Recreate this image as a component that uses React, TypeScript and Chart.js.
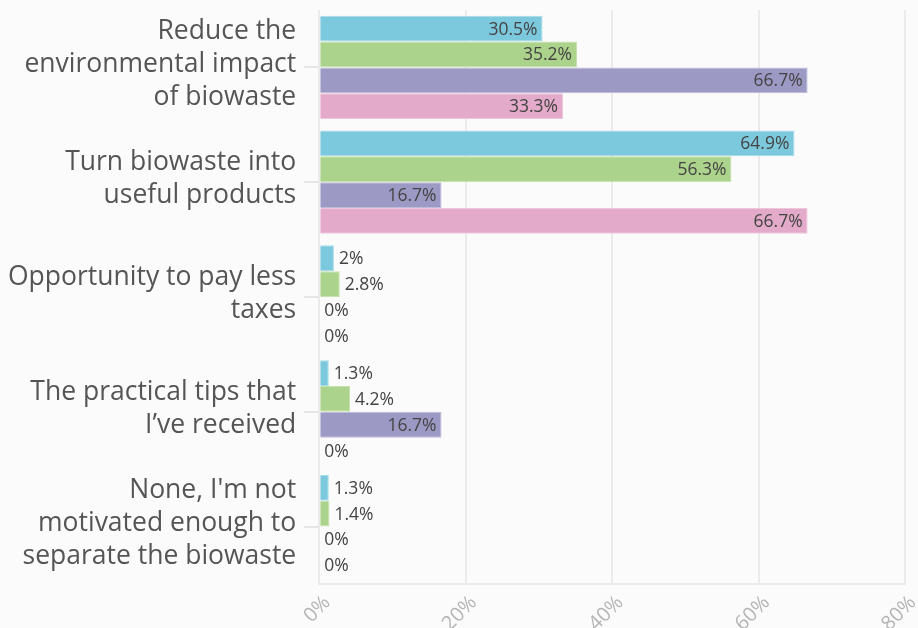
import React, { useEffect, useRef } from "react";
import { Chart, registerables } from "chart.js";

Chart.register(...registerables);

const categories: string[][] = [
  ["Reduce the", "environmental impact", "of biowaste"],
  ["Turn biowaste into", "useful products"],
  ["Opportunity to pay less", "taxes"],
  ["The practical tips that", "I\u2019ve received"],
  ["None, I'm not", "motivated enough to", "separate the biowaste"],
];

const seriesA = [30.5, 64.9, 2, 1.3, 1.3];
const seriesB = [35.2, 56.3, 2.8, 4.2, 1.4];
const seriesC = [66.7, 16.7, 0, 16.7, 0];
const seriesD = [33.3, 66.7, 0, 0, 0];

const seriesNames = ["Series 1", "Series 2", "Series 3", "Series 4"];
const seriesColors = ["#7cc8dc", "#acd38b", "#9d99c5", "#e3aac9"];
const seriesBorders = ["#a6dbe9", "#c6e2ad", "#bdbada", "#eec6dc"];

const xTicks = [0, 20, 40, 60, 80];

const FONT = "'Open Sans', 'Noto Sans', sans-serif";

const bgPlugin = {
  id: "bg",
  beforeDraw(chart: any) {
    const { ctx, width, height } = chart;
    ctx.save();
    ctx.fillStyle = "#fbfbfb";
    ctx.fillRect(0, 0, width, height);
    ctx.restore();
  },
};

const labelPlugin = {
  id: "barLabels",
  afterDatasetsDraw(chart: any) {
    const ctx = chart.ctx;
    ctx.save();
    ctx.font = `17.5px ${FONT}`;
    ctx.fillStyle = "#444";
    ctx.textBaseline = "middle";
    chart.data.datasets.forEach((ds: any, i: number) => {
      const meta = chart.getDatasetMeta(i);
      meta.data.forEach((el: any, j: number) => {
        const v = ds.data[j];
        const text = `${v}%`;
        const tw = ctx.measureText(text).width;
        const w = el.x - el.base;
        if (w > tw + 10) {
          ctx.textAlign = "right";
          ctx.fillText(text, el.x - 5, el.y + 1);
        } else {
          ctx.textAlign = "left";
          ctx.fillText(text, el.x + 5, el.y + 1);
        }
      });
    });
    ctx.restore();
  },
};

export default function App() {
  const ref = useRef<HTMLCanvasElement | null>(null);
  useEffect(() => {
    if (!ref.current) return;
    const data = [seriesA, seriesB, seriesC, seriesD];
    const chart = new Chart(ref.current, {
      type: "bar",
      data: {
        labels: categories,
        datasets: data.map((d, i) => ({
          label: seriesNames[i],
          data: d,
          backgroundColor: seriesColors[i],
          borderColor: seriesBorders[i],
          borderWidth: 1,
          categoryPercentage: 0.9,
          barPercentage: 1,
        })),
      },
      options: {
        indexAxis: "y",
        animation: false,
        responsive: false,
        maintainAspectRatio: false,
        layout: { padding: { top: 10, right: 13, left: 0, bottom: 0 } },
        plugins: {
          legend: { display: false },
          tooltip: { enabled: false },
        },
        scales: {
          x: {
            min: 0,
            max: 80,
            afterBuildTicks: (axis: any) => {
              axis.ticks = xTicks.map((v) => ({ value: v }));
            },
            afterFit: (axis: any) => {
              axis.height = 44;
              axis.paddingLeft = 0;
              axis.paddingRight = 0;
            },
            ticks: {
              minRotation: 45,
              maxRotation: 45,
              color: "#b5b5b5",
              font: { family: FONT, size: 20 },
              callback: (v: any) => `${v}%`,
              padding: 7,
              labelOffset: 8,
            },
            grid: { color: "#ebebeb", lineWidth: 2, drawTicks: false },
            border: { display: true, color: "#ebebeb", width: 2 },
          },
          y: {
            afterFit: (axis: any) => {
              axis.paddingTop = 0;
              axis.paddingBottom = 0;
            },
            ticks: {
              color: "#555",
              font: { family: FONT, size: 26.5, lineHeight: 1.25 },
              padding: 8,
              labelOffset: -3,
            },
            grid: {
              offset: false,
              drawOnChartArea: false,
              color: "#e6e6e6",
              lineWidth: 2,
              tickLength: 15,
            },
            border: { display: false },
          },
        },
      },
      plugins: [bgPlugin, labelPlugin],
    });
    return () => chart.destroy();
  }, []);
  return (
    <div style={{ position: "fixed", left: 0, top: 0, width: 918, height: 628 }}>
      <canvas ref={ref} width={918} height={628} style={{ width: 918, height: 628 }} />
    </div>
  );
}
